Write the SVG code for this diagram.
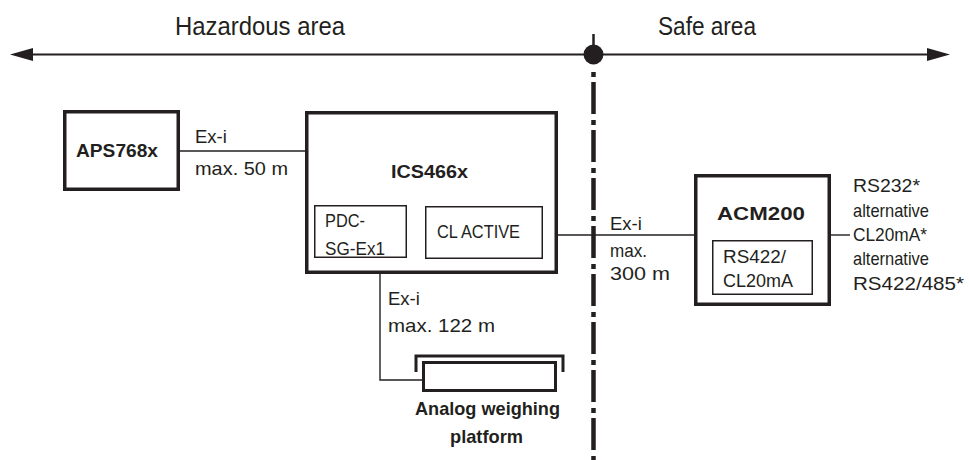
<svg xmlns="http://www.w3.org/2000/svg" width="969" height="460" viewBox="0 0 969 460">
<defs>
<style>
text{font-family:"Liberation Sans",Arial,sans-serif;fill:#231f20;font-size:18.5px}
.b{font-weight:bold}
.big{font-size:25px}
.thick{fill:#fff;stroke:#231f20;stroke-width:3.5}
.thin{fill:#fff;stroke:#231f20;stroke-width:1.5}
.wire{fill:none;stroke:#231f20;stroke-width:1.4}
</style>
<marker id="ah" viewBox="0 0 23 13" refX="0" refY="6.5" markerWidth="23" markerHeight="13" markerUnits="userSpaceOnUse" orient="auto">
<path d="M0,0 L23,6.5 L0,13 Z" fill="#231f20"/>
</marker>
</defs>
<rect width="969" height="460" fill="#fff"/>

<g id="areas">
<line x1="593.5" y1="54.5" x2="927" y2="54.5" stroke="#231f20" stroke-width="2.2" marker-end="url(#ah)"/>
<line x1="593.5" y1="54.5" x2="33" y2="54.5" stroke="#231f20" stroke-width="2.2" marker-end="url(#ah)"/>
<line x1="593.5" y1="34" x2="593.5" y2="55" stroke="#231f20" stroke-width="2.5"/>
<line x1="593.5" y1="72" x2="593.5" y2="460" stroke="#231f20" stroke-width="4.5" stroke-dasharray="5 5 32 6"/>
<circle cx="593.5" cy="54.5" r="10" fill="#231f20"/>
<text class="big" x="175" y="35" textLength="170" lengthAdjust="spacingAndGlyphs">Hazardous area</text>
<text class="big" x="658" y="35" textLength="98" lengthAdjust="spacingAndGlyphs">Safe area</text>
</g>

<g id="connectors">
<path class="wire" d="M180,151 H307"/>
<path class="wire" d="M543,235 H695"/>
<path class="wire" d="M831,235 H850"/>
<path class="wire" d="M380,274 V380 H423"/>
<text x="195" y="143">Ex-i</text>
<text x="195" y="175" textLength="93" lengthAdjust="spacingAndGlyphs">max. 50 m</text>
<text x="610" y="230">Ex-i</text>
<text x="610" y="257" textLength="37" lengthAdjust="spacingAndGlyphs">max.</text>
<text x="610" y="280" textLength="60" lengthAdjust="spacingAndGlyphs">300 m</text>
<text x="388" y="305">Ex-i</text>
<text x="388" y="332" textLength="107" lengthAdjust="spacingAndGlyphs">max. 122 m</text>
<text x="853" y="192" textLength="67" lengthAdjust="spacingAndGlyphs">RS232*</text>
<text x="853" y="217" textLength="76" lengthAdjust="spacingAndGlyphs">alternative</text>
<text x="853" y="241" textLength="74" lengthAdjust="spacingAndGlyphs">CL20mA*</text>
<text x="853" y="265" textLength="76" lengthAdjust="spacingAndGlyphs">alternative</text>
<text x="853" y="290" textLength="111" lengthAdjust="spacingAndGlyphs">RS422/485*</text>
</g>

<g id="aps768x">
<rect class="thick" x="64.75" y="111.75" width="113.5" height="77.5"/>
<text class="b" x="76" y="157" textLength="82" lengthAdjust="spacingAndGlyphs">APS768x</text>
</g>

<g id="ics466x">
<rect class="thick" x="306.75" y="112.75" width="249.5" height="159.5"/>
<text class="b" x="391" y="178" textLength="77" lengthAdjust="spacingAndGlyphs">ICS466x</text>
</g>

<g id="pdc">
<rect class="thin" x="314.75" y="205.75" width="91.5" height="51.5"/>
<text x="325" y="227" textLength="40" lengthAdjust="spacingAndGlyphs">PDC-</text>
<text x="325" y="255" textLength="60" lengthAdjust="spacingAndGlyphs">SG-Ex1</text>
</g>

<g id="clactive">
<rect class="thin" x="425.75" y="206.75" width="116.5" height="51.5"/>
<text x="437" y="238" textLength="83" lengthAdjust="spacingAndGlyphs">CL ACTIVE</text>
</g>

<g id="acm200">
<rect class="thick" x="695.75" y="175.75" width="133.5" height="128.5"/>
<text class="b" x="717" y="220" textLength="88" lengthAdjust="spacingAndGlyphs">ACM200</text>
</g>

<g id="rs422">
<rect class="thin" x="712.75" y="240.75" width="99.5" height="53.5"/>
<text x="723" y="263" textLength="63" lengthAdjust="spacingAndGlyphs">RS422/</text>
<text x="723" y="287" textLength="70" lengthAdjust="spacingAndGlyphs">CL20mA</text>
</g>

<g id="platform">
<path d="M416,372 V356 H563 V372" fill="none" stroke="#231f20" stroke-width="3"/>
<rect x="423.5" y="362.5" width="132" height="28" fill="#fff" stroke="#231f20" stroke-width="3"/>
<text class="b" x="415" y="415" textLength="145" lengthAdjust="spacingAndGlyphs">Analog weighing</text>
<text class="b" x="450" y="443" textLength="73" lengthAdjust="spacingAndGlyphs">platform</text>
</g>
</svg>
